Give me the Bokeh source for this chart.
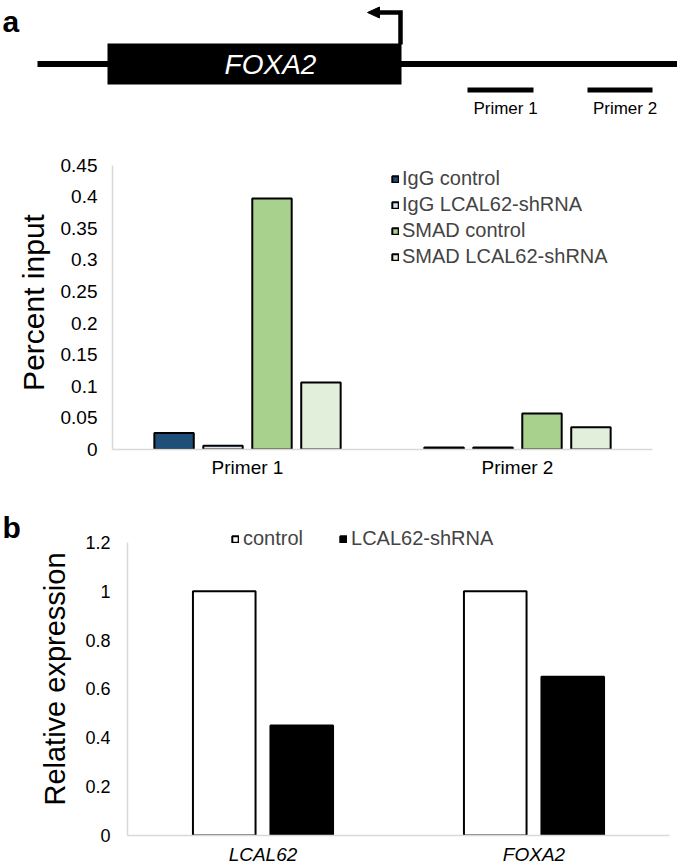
from bokeh.plotting import figure
from bokeh.models import (ColumnDataSource, FactorRange, Range1d, FixedTicker,
                          Legend, LegendItem)
from bokeh.transform import dodge
from bokeh.embed import file_html
from bokeh.resources import INLINE
from bokeh.core.properties import value

FONT = "Liberation Sans"

# ---------------- schematic (panel a, top) ----------------
backbone = [37, 677]
gene_box = [107, 401]
gene_name = "FOXA2"
tss_x = 400
primer_names = ["Primer 1", "Primer 2"]
primer_start = [467, 587]
primer_end = [533, 652]

# ---------------- panel a: ChIP ----------------
primers = ["Primer 1", "Primer 2"]
series_a = ["IgG control", "IgG LCAL62-shRNA", "SMAD control", "SMAD LCAL62-shRNA"]
igg_control = [0.026, 0.003]
igg_shrna = [0.006, 0.003]
smad_control = [0.397, 0.057]
smad_shrna = [0.106, 0.035]
colors_a = ["#1F4E79", "#DAE3F3", "#A9D18E", "#E2EFDA"]
yticks_a = [0, 0.05, 0.1, 0.15, 0.2, 0.25, 0.3, 0.35, 0.4, 0.45]
ytick_labels_a = ["0", "0.05", "0.1", "0.15", "0.2", "0.25", "0.3", "0.35", "0.4", "0.45"]

# ---------------- panel b: expression ----------------
genes = ["LCAL62", "FOXA2"]
series_b = ["control", "LCAL62-shRNA"]
control_b = [1.0, 1.0]
shrna_b = [0.45, 0.65]
colors_b = ["white", "black"]
yticks_b = [0, 0.2, 0.4, 0.6, 0.8, 1.0, 1.2]
ytick_labels_b = ["0", "0.2", "0.4", "0.6", "0.8", "1", "1.2"]

W = 677

# ======== schematic ========
top = figure(width=W, height=130, x_range=Range1d(0, 677), y_range=Range1d(130, 0),
             toolbar_location=None, output_backend="svg",
             x_axis_location=None, y_axis_location=None, min_border=0,
             outline_line_color=None)
top.grid.visible = False
top.text(x=[2], y=[21], text=["a"], text_font=value(FONT), text_font_size="30px",
         text_font_style="bold", text_baseline="middle", text_align="left")
top.segment(x0=[backbone[0]], y0=[63.5], x1=[backbone[1]], y1=[63.5],
            line_width=6, line_color="black")
top.quad(left=[gene_box[0]], right=[gene_box[1]], top=[43], bottom=[84],
         fill_color="black", line_color=None)
top.text(x=[270], y=[64], text=[gene_name], text_font=value(FONT), text_font_size="28px",
         text_font_style="italic", text_color="white", text_align="center",
         text_baseline="middle")
top.line(x=[tss_x, tss_x, 377], y=[44, 12, 12], line_width=4.5, line_color="black",
         line_join="miter")
top.patch(x=[367, 379, 379], y=[12, 6.5, 17.5], fill_color="black", line_color="black")
top.segment(x0=primer_start, y0=[89.5] * 2, x1=primer_end, y1=[89.5] * 2,
            line_width=5, line_color="black")
top.text(x=[(s + e) / 2 for s, e in zip(primer_start, primer_end)], y=[108] * 2,
         text=primer_names, x_offset=5, text_font=value(FONT), text_font_size="17px",
         text_align="center", text_baseline="middle")


def style_axes(p, ylabel, tick_font, ylabel_font, ystand, lstand, xstand):
    p.xgrid.visible = False
    p.ygrid.visible = False
    for ax in p.axis:
        ax.axis_line_color = "#D9D9D9"
        ax.axis_line_width = 1.5
        ax.major_tick_line_color = None
        ax.minor_tick_line_color = None
        ax.major_tick_in = 0
        ax.major_tick_out = 0
        ax.minor_tick_in = 0
        ax.minor_tick_out = 0
        ax.major_label_text_font = FONT
        ax.major_label_text_color = "black"
        ax.major_label_text_font_size = tick_font
    p.yaxis.major_label_standoff = ystand
    p.xaxis.major_label_standoff = xstand
    p.yaxis.axis_label = ylabel
    p.yaxis.axis_label_text_font = FONT
    p.yaxis.axis_label_text_font_size = ylabel_font
    p.yaxis.axis_label_text_font_style = "normal"
    p.yaxis.axis_label_text_color = "black"
    p.yaxis.axis_label_standoff = lstand


# ======== panel a chart ========
src_a = ColumnDataSource(dict(primer=primers, igg_c=igg_control, igg_s=igg_shrna,
                              smad_c=smad_control, smad_s=smad_shrna))
pa = figure(width=W, height=350, x_range=FactorRange(factors=primers, range_padding=0),
            y_range=Range1d(0, 0.46503), toolbar_location=None, output_backend="svg",
            min_border_left=112, min_border_right=25, min_border_top=25,
            min_border_bottom=31, outline_line_color=None)
offs_a = [-0.272, -0.0907, 0.0907, 0.272]
cols_a = ["igg_c", "igg_s", "smad_c", "smad_s"]
rends_a = []
for off, col, c in zip(offs_a, cols_a, colors_a):
    r = pa.vbar(x=dodge("primer", off, range=pa.x_range), top=col, width=0.146,
                source=src_a, fill_color=c, line_color="black", line_width=2)
    rends_a.append(r)
style_axes(pa, "Percent input", "19px", "30px", 15, 8, 7)
pa.yaxis.bounds = (0, 0.45)
pa.yaxis.ticker = FixedTicker(ticks=yticks_a)
pa.yaxis.major_label_overrides = dict(zip(yticks_a, ytick_labels_a))
leg_a = Legend(items=[LegendItem(label=s, renderers=[r]) for s, r in zip(series_a, rends_a)],
               location=(279, 181), orientation="vertical", glyph_width=8, glyph_height=8,
               label_standoff=3, label_text_font=FONT, label_text_font_size="20px",
               label_height=22, spacing=3, padding=0, margin=0,
               border_line_color=None, background_fill_alpha=0)
pa.add_layout(leg_a)

# ======== panel b chart ========
src_b = ColumnDataSource(dict(gene=genes, ctrl=control_b, sh=shrna_b))
pb = figure(width=W, height=387, x_range=FactorRange(factors=genes, range_padding=0),
            y_range=Range1d(0, 1.2819), toolbar_location=None, output_backend="svg",
            min_border_left=127, min_border_right=8, min_border_top=42,
            min_border_bottom=32, outline_line_color=None, title="b")
pb.title.align = "left"
pb.title.offset = -125
pb.title.standoff = -42
pb.title.text_font = FONT
pb.title.text_font_size = "30px"
pb.title.text_font_style = "bold"
pb.title.text_color = "black"
rends_b = []
for off, col, c in zip([-0.143, 0.143], ["ctrl", "sh"], colors_b):
    r = pb.vbar(x=dodge("gene", off, range=pb.x_range), top=col, width=0.231,
                source=src_b, fill_color=c, line_color="black", line_width=2)
    rends_b.append(r)
style_axes(pb, "Relative expression", "18px", "29px", 17, 11, 8)
pb.yaxis.bounds = (0, 1.2)
pb.xaxis.major_label_text_font_size = "19px"
pb.xaxis.major_label_text_font_style = "italic"
pb.yaxis.ticker = FixedTicker(ticks=yticks_b)
pb.yaxis.major_label_overrides = dict(zip(yticks_b, ytick_labels_b))
leg_b = Legend(items=[LegendItem(label=s, renderers=[r]) for s, r in zip(series_b, rends_b)],
               location=(104, 285), orientation="horizontal", glyph_width=8, glyph_height=8,
               label_standoff=4, label_text_font=FONT, label_text_font_size="20px",
               label_height=22, spacing=36, padding=0, margin=0,
               border_line_color=None, background_fill_alpha=0)
pb.add_layout(leg_b)

open("out.html", "w").write(file_html([top, pa, pb], INLINE))
